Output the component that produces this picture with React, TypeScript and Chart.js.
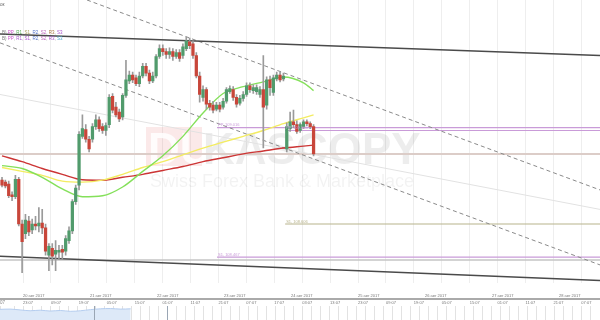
import React, { useEffect, useRef } from 'react';
import { Chart, registerables } from 'chart.js';

Chart.register(...registerables);

// ---------- axis ranges (hours since 20 авг 2017 tick) ----------
const X_MIN = -8.24;
const X_MAX = 206.68;
const Y_MIN = 108.372;
const Y_MAX = 109.54;

// candles: one every STEP_H hours starting at START_H
const START_H = -7.52;
const STEP_H = 1.2;

const OPEN = [108.800,108.792,108.784,108.740,108.732,108.804,108.620,108.580,108.632,108.596,
108.620,108.612,108.624,108.604,108.492,108.520,108.496,108.504,108.516,108.508,
108.552,108.592,108.712,108.780,108.980,109.008,108.968,108.968,109.020,109.048,
109.020,109.004,109.028,109.144,109.100,109.080,109.060,109.148,109.208,109.232,
109.220,109.196,109.228,109.268,109.240,109.208,109.228,109.308,109.340,109.328,
109.316,109.328,109.308,109.324,109.312,109.340,109.368,109.360,109.312,109.228,
109.140,109.172,109.116,109.108,109.092,109.108,109.100,109.124,109.164,109.172,
109.140,109.116,109.136,109.152,109.188,109.168,109.164,109.152,109.172,109.108,
109.212,109.160,109.216,109.232,109.216,108.928,109.012,109.040,109.028,109.004,
109.020,109.040,109.032,109.020];

const CLOSE = [108.780,108.776,108.736,108.732,108.804,108.620,108.548,108.636,108.588,108.620,
108.612,108.624,108.604,108.508,108.528,108.488,108.512,108.512,108.504,108.560,
108.592,108.712,108.768,108.988,109.012,108.968,108.928,109.020,109.048,109.012,
109.004,109.024,109.140,109.088,109.068,109.052,109.148,109.212,109.232,109.212,
109.196,109.228,109.268,109.240,109.208,109.228,109.308,109.340,109.328,109.316,
109.328,109.308,109.324,109.300,109.348,109.372,109.352,109.312,109.228,109.152,
109.172,109.112,109.100,109.088,109.108,109.092,109.124,109.172,109.176,109.140,
109.112,109.136,109.152,109.188,109.172,109.180,109.180,109.172,109.100,109.212,
109.180,109.220,109.232,109.212,109.228,109.020,109.040,109.028,109.000,109.028,
109.040,109.032,109.020,108.908];

const HIGH = [108.812,108.800,108.796,108.752,108.820,108.812,108.636,108.660,108.652,108.640,
108.652,108.688,108.680,108.620,108.540,108.540,108.552,108.532,108.532,108.572,
108.608,108.720,108.780,109.000,109.068,109.028,108.980,109.032,109.068,109.060,
109.032,109.036,109.152,109.156,109.120,109.092,109.156,109.292,109.248,109.244,
109.232,109.244,109.280,109.280,109.252,109.244,109.316,109.356,109.356,109.340,
109.344,109.340,109.336,109.336,109.360,109.388,109.384,109.372,109.324,109.244,
109.188,109.180,109.128,109.124,109.120,109.120,109.136,109.180,109.188,109.184,
109.152,109.148,109.164,109.200,109.200,109.192,109.192,109.184,109.312,109.224,
109.228,109.232,109.244,109.244,109.240,109.036,109.080,109.088,109.044,109.036,
109.048,109.048,109.040,109.028];

const LOW = [108.772,108.768,108.728,108.716,108.724,108.612,108.420,108.560,108.572,108.580,
108.596,108.588,108.580,108.492,108.428,108.452,108.428,108.476,108.476,108.492,
108.540,108.580,108.700,108.760,108.972,108.956,108.916,108.956,109.008,109.000,
108.992,108.984,109.016,109.076,109.060,109.040,109.048,109.140,109.196,109.200,
109.188,109.184,109.220,109.228,109.196,109.200,109.220,109.300,109.312,109.300,
109.300,109.292,109.300,109.288,109.300,109.332,109.340,109.300,109.220,109.120,
109.124,109.092,109.088,109.076,109.084,109.080,109.092,109.116,109.156,109.128,
109.100,109.108,109.124,109.144,109.160,109.156,109.152,109.140,108.932,109.092,
109.148,109.148,109.208,109.204,109.208,108.916,109.000,109.016,108.992,108.996,
109.012,109.024,109.012,108.900];

// moving averages sampled at candle indices
const MA_IDX = [0,6,12,18,24,30,36,42,48,54,60,66,72,78,84,90,93];
const MA_RED = [108.900,108.876,108.848,108.824,108.802,108.800,108.812,108.824,108.840,108.856,108.876,108.892,108.908,108.920,108.932,108.940,108.944];
const MA_YELLOW = [108.852,108.836,108.820,108.796,108.792,108.800,108.824,108.852,108.876,108.904,108.932,108.956,108.980,109.004,109.032,109.056,109.068];
const MA_GREEN = [108.860,108.848,108.812,108.764,108.732,108.736,108.772,108.836,108.900,108.980,109.076,109.156,109.184,109.204,109.224,109.200,109.168];

// trend lines: [start, end]
const UPPER_H = [X_MIN, X_MAX];
const UPPER_P = [109.400, 109.312];
const LOWER_H = [X_MIN, X_MAX];
const LOWER_P = [108.488, 108.388];
const DASH_A_H = [22.93, X_MAX];
const DASH_A_P = [109.540, 108.760];
const DASH_B_H = [X_MIN, X_MAX];
const DASH_B_P = [109.364, 108.452];
const THIN_H = [X_MIN, X_MAX];
const THIN_P = [109.152, 108.680];

// horizontal pivot levels
const LEVEL_VALUES = [108.908, 109.016, 109.004, 108.620, 108.484, 108.472];
const LEVEL_FROM = [X_MIN, 69.5, 93.9, 93.9, 69.5, X_MIN];
const LEVEL_LABELS = ['', 'PP, 109.016', 'PP, 109.004', 'S1, 108.606', 'S1, 108.467', ''];
const LEVEL_COLORS = ['#dccdc8', '#c99bd8', '#c99bd8', '#b8b38c', '#c99bd8', '#c4c4c4'];
const LEVEL_WIDTHS = [2, 1.2, 1.2, 1.2, 1.2, 1.5];

// axis ticks
const DAY_H = [0, 24, 48, 72, 96, 120, 144, 168, 192];
const DAY_LABELS = ['20 авг 2017','21 авг 2017','22 авг 2017','23 авг 2017','24 авг 2017','25 авг 2017','26 авг 2017','27 авг 2017','28 авг 2017'];
const TIME_H = [0,10,20,30,40,50,60,70,80,90,100,110,120,130,140,150,160,170,180,190,200];
const TIME_LABELS = ['23:07','09:07','19:07','05:07','15:07','01:07','11:07','21:07','07:07','17:07','03:07','13:07','23:07','09:07','19:07','05:07','15:07','01:07','11:07','21:07','07:07'];

// navigator
const NAV_START = X_MIN;
const NAV_STEP = 3.6;
const NAV_VALUES = [108.98,108.99,108.96,108.93,108.95,108.92,108.94,108.91,108.93,108.97,109.00,109.01,108.99,109.00];
const NAV_MARKS = [25.4, 51.6];

const LEGEND_1 = [['B) ', '#777777'], ['PP', '#cc55cc'], [', ', '#999999'], ['R1', '#55aa55'], [', ', '#999999'], ['S1', '#aaa060'], [', ', '#999999'], ['R2', '#5577cc'], [', ', '#999999'], ['S2', '#bb66bb'], [', ', '#999999'], ['R3', '#aa7744'], [', ', '#999999'], ['S3', '#aa55cc']];
const LEGEND_2 = [['B) ', '#777777'], ['PP', '#cc55cc'], [', ', '#999999'], ['R1', '#aa55cc'], [', ', '#999999'], ['S1', '#aa55cc'], [', ', '#999999'], ['R2', '#5577cc'], [', ', '#999999'], ['S2', '#bb66bb'], [', ', '#999999'], ['R3', '#aa55cc'], [', ', '#999999'], ['S3', '#55aacc']];

const GREEN = '#519b6c';
const RED = '#c8463a';

const seg = (h: number[], p: number[]) => [{ x: h[0], y: p[0] }, { x: h[1], y: p[1] }];

const overlayPlugin = {
  id: 'overlay',
  beforeDatasetsDraw(chart: any) {
    const ctx = chart.ctx;
    ctx.save();
    // watermark
    ctx.fillStyle = 'rgba(225, 70, 70, 0.12)';
    ctx.fillRect(146, 127, 56, 39);
    ctx.font = 'bold 44px Arial, "Liberation Sans", sans-serif';
    ctx.textBaseline = 'alphabetic';
    ctx.fillStyle = 'rgba(255,255,255,0.85)';
    ctx.fillText('DU', 148, 164);
    ctx.fillStyle = 'rgba(0,0,0,0.07)';
    ctx.fillText('KASCOPY', 203, 164);
    ctx.font = '18px Arial, "Liberation Sans", sans-serif';
    ctx.fillStyle = 'rgba(0,0,0,0.05)';
    ctx.fillText('Swiss Forex Bank & Marketplace', 150, 187);
    ctx.restore();
  },
  afterDatasetsDraw(chart: any) {
    const ctx = chart.ctx;
    const xs = chart.scales.x;
    const ys = chart.scales.y;
    ctx.save();
    ctx.font = '4px Arial, "Liberation Sans", sans-serif';
    ctx.textBaseline = 'bottom';
    LEVEL_LABELS.forEach((t, i) => {
      if (!t) return;
      ctx.fillStyle = LEVEL_COLORS[i];
      ctx.fillText(t, xs.getPixelForValue(LEVEL_FROM[i]) + 1, ys.getPixelForValue(LEVEL_VALUES[i]) - 0.5);
    });
    const drawLegend = (parts: string[][], y: number) => {
      let x = 2;
      parts.forEach(([t, c]) => {
        ctx.fillStyle = c;
        ctx.fillText(t, x, y);
        x += ctx.measureText(t).width;
      });
    };
    ctx.font = '4.5px Arial, "Liberation Sans", sans-serif';
    drawLegend(LEGEND_1, 35);
    drawLegend(LEGEND_2, 41);
    ctx.fillStyle = '#666666';
    ctx.fillText('ок', 0, 7);
    ctx.fillStyle = '#888888';
    ctx.fillText('07', 0, chart.height - 0.5);
    ctx.restore();
  },
};

const navPlugin = {
  id: 'navmarks',
  afterDatasetsDraw(chart: any) {
    const ctx = chart.ctx;
    const xs = chart.scales.x;
    ctx.save();
    ctx.strokeStyle = '#9aa6b4';
    ctx.lineWidth = 1;
    NAV_MARKS.forEach((h) => {
      const px = Math.round(xs.getPixelForValue(h)) + 0.5;
      ctx.beginPath();
      ctx.moveTo(px, 0);
      ctx.lineTo(px, chart.height);
      ctx.stroke();
    });
    ctx.restore();
  },
};

export default function App() {
  const mainRef = useRef<HTMLCanvasElement>(null);
  const navRef = useRef<HTMLCanvasElement>(null);

  useEffect(() => {
    document.body.style.margin = '0';
    const candleX = OPEN.map((_, i) => START_H + STEP_H * i);
    const bodyColors = OPEN.map((o, i) => (CLOSE[i] >= o ? GREEN : RED));
    const maData = (arr: number[]) => MA_IDX.map((idx, k) => ({ x: START_H + STEP_H * idx, y: arr[k] }));

    const lineDs = (data: any[], color: string, width: number, dash: number[] = []) => ({
      type: 'line',
      data,
      borderColor: color,
      borderWidth: width,
      borderDash: dash,
      pointRadius: 0,
      fill: false,
      tension: 0,
    });

    const datasets: any[] = [
      {
        type: 'bar',
        data: OPEN.map((o, i) => ({ x: candleX[i], y: [o, CLOSE[i]] })),
        backgroundColor: bodyColors,
        barThickness: 2.6,
        grouped: false,
        minBarLength: 1,
        borderWidth: 0,
      },
      {
        type: 'bar',
        data: LOW.map((l, i) => ({ x: candleX[i], y: [l, HIGH[i]] })),
        backgroundColor: '#9a9a9a',
        barThickness: 1,
        grouped: false,
        borderWidth: 0,
      },
      { ...lineDs(maData(MA_GREEN), '#84e05a', 1.4), cubicInterpolationMode: 'monotone' },
      { ...lineDs(maData(MA_YELLOW), '#f3ec62', 1.4), cubicInterpolationMode: 'monotone' },
      { ...lineDs(maData(MA_RED), '#cc3535', 1.4), cubicInterpolationMode: 'monotone' },
      lineDs(seg(UPPER_H, UPPER_P), '#4a4a4a', 1.5),
      lineDs(seg(LOWER_H, LOWER_P), '#4a4a4a', 1.5),
      lineDs(seg(DASH_A_H, DASH_A_P), '#8a8a8a', 1, [4, 3]),
      lineDs(seg(DASH_B_H, DASH_B_P), '#8a8a8a', 1, [4, 3]),
      lineDs(seg(THIN_H, THIN_P), '#e2e2e2', 1),
      ...LEVEL_VALUES.map((v, i) =>
        lineDs([{ x: LEVEL_FROM[i], y: v }, { x: X_MAX, y: v }], LEVEL_COLORS[i], LEVEL_WIDTHS[i])
      ),
    ];

    const main = new Chart(mainRef.current as HTMLCanvasElement, {
      type: 'bar',
      data: { datasets },
      options: {
        responsive: false,
        animation: false,
        layout: { padding: 0 },
        plugins: { legend: { display: false }, tooltip: { enabled: false } },
        scales: {
          x: {
            type: 'linear',
            offset: false,
            min: X_MIN,
            max: X_MAX,
            position: 'bottom',
            afterBuildTicks: (s: any) => {
              s.ticks = DAY_H.map((v) => ({ value: v }));
            },
            ticks: {
              callback: (_v: any, i: number) => DAY_LABELS[i],
              font: { size: 4, family: 'Arial' },
              color: '#777777',
              align: 'start',
              padding: 1,
              maxRotation: 0,
              autoSkip: false,
            },
            grid: { display: false, offset: false },
            border: { display: false },
          },
          x2: {
            type: 'linear',
            offset: false,
            min: X_MIN,
            max: X_MAX,
            position: 'bottom',
            afterBuildTicks: (s: any) => {
              s.ticks = TIME_H.map((v) => ({ value: v }));
            },
            ticks: {
              callback: (_v: any, i: number) => TIME_LABELS[i],
              font: { size: 4, family: 'Arial' },
              color: '#777777',
              align: 'start',
              padding: 1,
              maxRotation: 0,
              autoSkip: false,
            },
            grid: { color: '#eeeeee', drawTicks: false, offset: false },
            border: { display: true, color: '#aaaaaa', width: 2 },
          },
          y: { type: 'linear', min: Y_MIN, max: Y_MAX, display: false },
        },
      } as any,
      plugins: [overlayPlugin],
    });

    const nav = new Chart(navRef.current as HTMLCanvasElement, {
      type: 'line',
      data: {
        datasets: [
          {
            data: NAV_VALUES.map((v, i) => ({ x: NAV_START + NAV_STEP * i, y: v })),
            borderColor: '#b5cdef',
            backgroundColor: '#dde9f8',
            borderWidth: 1,
            fill: 'start',
            pointRadius: 0,
            tension: 0.3,
          },
        ],
      },
      options: {
        responsive: false,
        animation: false,
        layout: { padding: 0 },
        plugins: { legend: { display: false }, tooltip: { enabled: false } },
        scales: {
          x: {
            type: 'linear',
            min: X_MIN,
            max: X_MAX,
            ticks: { display: false, stepSize: 3.225 },
            grid: { color: '#e2e2e2', drawTicks: false },
            border: { display: false },
          },
          y: { type: 'linear', min: 108.6, max: 109.1, display: false },
        },
      } as any,
      plugins: [navPlugin],
    });

    return () => {
      main.destroy();
      nav.destroy();
    };
  }, []);

  return (
    <div style={{ position: 'absolute', left: 0, top: 0, width: 600, height: 320, background: '#ffffff' }}>
      <canvas ref={mainRef} width={600} height={306} style={{ position: 'absolute', left: 0, top: 0 }} />
      <canvas ref={navRef} width={600} height={14} style={{ position: 'absolute', left: 0, top: 306 }} />
    </div>
  );
}
